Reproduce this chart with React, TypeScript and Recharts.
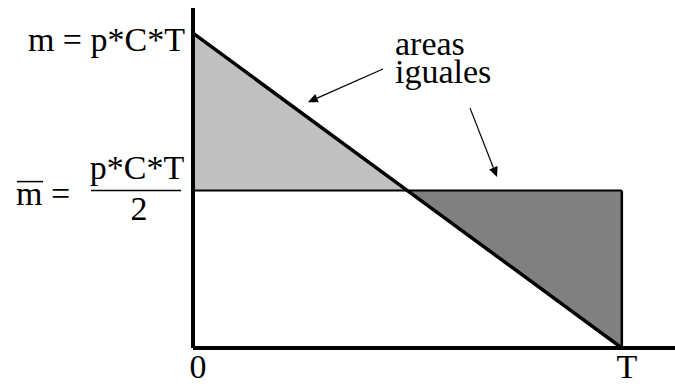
import { ComposedChart, Line, Area, XAxis, YAxis, ReferenceLine, ReferenceDot } from 'recharts'

// t as fraction of T, m as fraction of m = p*C*T
const times = [0, 0.5, 1]
const mValues = [1, 0.5, 0]
const meanValue = 0.5

// annotation "areas iguales" with its two arrows, in data units
const noteLines = ['areas', 'iguales']
const notePos = { x: 0.471, y: 0.93 }
const arrows = [
  { from: { x: 0.443, y: 0.886 }, to: { x: 0.268, y: 0.781 } },
  { from: { x: 0.646, y: 0.762 }, to: { x: 0.709, y: 0.543 } },
]

const txt = { fontFamily: "'Liberation Serif', 'Times New Roman', Times, serif", fontSize: 34 }

const rows = times.map((t, i) => ({
  t,
  m: mValues[i],
  mean: meanValue,
  light: mValues[i] >= meanValue ? [meanValue, mValues[i]] : null,
  dark: mValues[i] <= meanValue ? [mValues[i], meanValue] : null,
}))

function YTick({ x, y, payload }: any) {
  if (payload.value === 1) {
    return (
      <text x={x} y={y + 18} textAnchor="end" style={txt} fill="#000">m = p*C*T</text>
    )
  }
  const cx = x - 48
  return (
    <g>
      <text x={16} y={y + 14} style={txt} fill="#000">m =</text>
      <line x1={17} x2={43} y1={y - 9} y2={y - 9} stroke="#000" strokeWidth={1.5} />
      <text x={cx} y={y - 12} textAnchor="middle" style={txt} fill="#000">p*C*T</text>
      <line x1={cx - 46} x2={cx + 44} y1={y} y2={y} stroke="#000" strokeWidth={1.5} />
      <text x={cx + 2} y={y + 29} textAnchor="middle" style={txt} fill="#000">2</text>
    </g>
  )
}

function XTick({ x, y, payload }: any) {
  return (
    <text x={x + 5} y={y + 22} textAnchor="middle" style={txt} fill="#000">
      {payload.value === 0 ? '0' : 'T'}
    </text>
  )
}

function Arrow(props: any) {
  const { x1, y1, x2, y2 } = props
  const dx = x2 - x1, dy = y2 - y1
  const len = Math.sqrt(dx * dx + dy * dy)
  const ux = dx / len, uy = dy / len
  const bx = x2 - ux * 10, by = y2 - uy * 10
  const px = -uy * 4.5, py = ux * 4.5
  return (
    <g>
      <line x1={x1} y1={y1} x2={bx} y2={by} stroke="#000" strokeWidth={1.2} />
      <polygon points={`${x2},${y2} ${bx + px},${by + py} ${bx - px},${by - py}`} fill="#000" />
    </g>
  )
}

function Note(props: any) {
  const { cx, cy } = props
  return (
    <text x={cx} y={cy} style={txt} fill="#000">
      {noteLines.map((l, i) => <tspan key={i} x={cx} dy={i === 0 ? 0 : 28}>{l}</tspan>)}
    </text>
  )
}

export default function App() {
  return (
    <div style={{ position: 'absolute', left: 0, top: 0, background: '#fff' }}>
      <ComposedChart width={675} height={384} data={rows} margin={{ top: 8, right: 0, bottom: 0, left: 0 }}>
        <XAxis dataKey="t" type="number" domain={[0, 1.124]} ticks={[0, 1]} allowDataOverflow
          axisLine={{ stroke: '#000', strokeWidth: 4 }} tickLine={false} tick={<XTick />} height={36} />
        <YAxis type="number" domain={[0, 1.08]} ticks={[0.5, 1]} allowDataOverflow
          axisLine={{ stroke: '#000', strokeWidth: 4 }} tickLine={false} tick={<YTick />} width={193} />
        <Area dataKey="light" type="linear" stroke="none" fill="#c0c0c0" fillOpacity={1} isAnimationActive={false} />
        <Area dataKey="dark" type="linear" stroke="none" fill="#808080" fillOpacity={1} isAnimationActive={false} />
        <Line dataKey="mean" type="linear" stroke="#000" strokeWidth={2} dot={false} isAnimationActive={false} />
        <ReferenceLine segment={[{ x: 1, y: 0 }, { x: 1, y: meanValue }]} stroke="#000" strokeWidth={2.5} />
        <Line dataKey="m" type="linear" stroke="#000" strokeWidth={3.5} dot={false} isAnimationActive={false} />
        {arrows.map((a, i) => (
          <ReferenceLine key={i} segment={[a.from, a.to]} shape={<Arrow />} />
        ))}
        <ReferenceDot x={notePos.x} y={notePos.y} r={0} shape={<Note />} />
      </ComposedChart>
    </div>
  )
}
